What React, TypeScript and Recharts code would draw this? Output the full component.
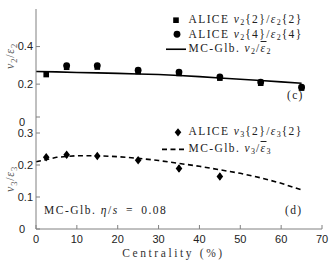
import { ComposedChart, Line, Scatter, XAxis, YAxis, ErrorBar } from "recharts";

// ALICE ratios (centrality %, value)
const centTwo = [2.5, 7.5, 15, 25, 35, 45, 55, 65];
const v2OverE2Two = [0.251, 0.29, 0.291, 0.267, 0.257, 0.232, 0.205, 0.179];
const centFour = [7.5, 15, 25, 35, 45, 55, 65];
const v2OverE2Four = [0.299, 0.299, 0.274, 0.264, 0.239, 0.211, 0.184];
const centThree = [2.5, 7.5, 15, 25, 35, 45];
const v3OverE3 = [0.224, 0.232, 0.228, 0.215, 0.189, 0.164];
const v3Err = [0.008, 0.009, 0.008, 0.008, 0.011, 0.01];

// MC-Glauber curves
const glbCent = [0, 5, 10, 15, 20, 25, 30, 35, 40, 45, 50, 55, 60, 65];
const glbV2 = [0.267, 0.265, 0.262, 0.26, 0.257, 0.254, 0.251, 0.246, 0.24, 0.233, 0.226, 0.219, 0.212, 0.205];
const glbV3 = [0.21, 0.224, 0.229, 0.229, 0.226, 0.221, 0.214, 0.205, 0.196, 0.185, 0.174, 0.16, 0.143, 0.122];

const xTicks = [0, 10, 20, 30, 40, 50, 60, 70];
const topMin = 0.025;
const topTicks = [topMin, 0.2, 0.4];
const bottomTicks = [0, 0.1, 0.2, 0.3];

const frame = "#808080";
const sans = "Liberation Sans, Arial, sans-serif";
const serif = "Liberation Serif, Times New Roman, serif";

const pts = (xs: number[], ys: number[], errs?: number[]) =>
  xs.map((x, i) => ({ x, y: ys[i], err: errs ? errs[i] : 0 }));

const Square = (p: any) => <rect x={p.cx - 2.8} y={p.cy - 2.8} width={5.6} height={5.6} fill="#000" />;
const Dot = (p: any) => <circle cx={p.cx} cy={p.cy} r={3.4} fill="#000" />;
const Diamond = (p: any) => (
  <polygon points={`${p.cx},${p.cy - 4.2} ${p.cx + 3.3},${p.cy} ${p.cx},${p.cy + 4.2} ${p.cx - 3.3},${p.cy}`} fill="#000" />
);

// "0" label sits a little left of the others, as in the original figure
const makeTick = (zeroDy: number) => (p: any) => {
  const v = p.payload.value;
  const isZero = v < 0.05;
  return (
    <text
      x={isZero ? p.x - 8 : p.x}
      y={isZero ? p.y + zeroDy : p.y}
      dy="0.355em"
      textAnchor="end"
      fontSize={11}
      fontFamily={sans}
      fill="#222"
    >
      {isZero ? "0" : v.toFixed(1)}
    </text>
  );
};

const makeYLabel = (n: string, cy: number) => () => (
  <text
    x={14}
    y={cy}
    transform={`rotate(-90, 14, ${cy})`}
    textAnchor="middle"
    fontSize={12}
    fontFamily={serif}
    letterSpacing={0.8}
    fill="#555"
  >
    <tspan fontStyle="italic">v</tspan>
    <tspan dy={3} fontSize={8.5}>{n}</tspan>
    <tspan dy={-3}>/</tspan>
    <tspan fontStyle="italic">ε</tspan>
    <tspan dy={3} fontSize={8.5}>{n}</tspan>
  </text>
);

const XLabel = () => (
  <text x={173.5} y={253} dy="0.35em" textAnchor="middle" fontSize={11.5} fontFamily={serif} letterSpacing={2.6} fill="#333">
    Centrality (%)
  </text>
);

const legendTxt: React.CSSProperties = { fontFamily: serif, fontSize: 11.5, letterSpacing: 1.4, color: "#222", whiteSpace: "nowrap" };
const noteTxt: React.CSSProperties = { fontFamily: serif, fontSize: 11.5, letterSpacing: 1.3, color: "#222", whiteSpace: "nowrap" };
const Sub = ({ c }: { c: string }) => <sub style={{ fontSize: 8, verticalAlign: -2, letterSpacing: 1 }}>{c}</sub>;

const row = (h: number): React.CSSProperties => ({ display: "flex", alignItems: "center", height: h });

const TopLegend = () => (
  <div style={{ ...legendTxt, position: "absolute", left: 164, top: 12.75 }}>
    <div style={row(14.5)}>
      <svg width={24.5} height={14.5}><rect x={9.2} y={4.4} width={5.6} height={5.6} fill="#000" /></svg>
      <span>ALICE <i>v</i><Sub c="2" />{"{2}/"}<i>ε</i><Sub c="2" />{"{2}"}</span>
    </div>
    <div style={row(14.5)}>
      <svg width={24.5} height={14.5}><circle cx={13} cy={7.25} r={3.4} fill="#000" /></svg>
      <span>ALICE <i>v</i><Sub c="2" />{"{4}/"}<i>ε</i><Sub c="2" />{"{4}"}</span>
    </div>
    <div style={row(14.5)}>
      <svg width={24.5} height={14.5}><line x1={2} x2={22} y1={7.25} y2={7.25} stroke="#000" strokeWidth={1.6} /></svg>
      <span>MC-Glb. <i>v</i><Sub c="2" />/<i style={{ textDecoration: "overline" }}>ε</i><Sub c="2" /></span>
    </div>
  </div>
);

const BottomLegend = () => (
  <div style={{ ...legendTxt, position: "absolute", left: 160, top: 124 }}>
    <div style={row(16.7)}>
      <svg width={28.5} height={16.7}><polygon points="18,4.15 21.3,8.35 18,12.55 14.7,8.35" fill="#000" /></svg>
      <span>ALICE <i>v</i><Sub c="3" />{"{2}/"}<i>ε</i><Sub c="3" />{"{2}"}</span>
    </div>
    <div style={row(16.7)}>
      <svg width={28.5} height={16.7}><line x1={2} x2={26} y1={8.35} y2={8.35} stroke="#000" strokeWidth={1.6} strokeDasharray="5 3.5" /></svg>
      <span>MC-Glb. <i>v</i><Sub c="3" />/<i style={{ textDecoration: "overline" }}>ε</i><Sub c="3" /></span>
    </div>
  </div>
);

export default function App() {
  return (
    <div style={{ position: "absolute", left: 0, top: 0, width: 332, height: 260, background: "#fff" }}>
      <div style={{ position: "absolute", left: 0, top: 0 }}>
        <ComposedChart width={332} height={130} margin={{ top: 9, right: 10, bottom: 13, left: 6 }}>
          <XAxis xAxisId="b" dataKey="x" type="number" domain={[0, 70]} ticks={xTicks} height={0} tick={false} tickSize={-4} stroke={frame} />
          <XAxis xAxisId="t" dataKey="x" type="number" orientation="top" domain={[0, 70]} ticks={xTicks} height={0} tick={false} tickSize={-4} stroke={frame} />
          <YAxis yAxisId="l" type="number" domain={[topMin, 0.6]} ticks={topTicks} interval={0} width={30} tickSize={-4} tickMargin={7} tick={makeTick(5)} stroke={frame} label={makeYLabel("2", 56)} />
          <YAxis yAxisId="r" type="number" orientation="right" domain={[topMin, 0.6]} ticks={topTicks} width={0} tick={false} tickSize={-4} stroke={frame} />
          <Line xAxisId="b" yAxisId="l" data={pts(glbCent, glbV2)} dataKey="y" stroke="#000" strokeWidth={1.6} dot={false} isAnimationActive={false} />
          <Scatter xAxisId="b" yAxisId="l" data={pts(centTwo, v2OverE2Two)} dataKey="y" shape={Square} isAnimationActive={false} />
          <Scatter xAxisId="b" yAxisId="l" data={pts(centFour, v2OverE2Four)} dataKey="y" shape={Dot} isAnimationActive={false} />
        </ComposedChart>
      </div>
      <div style={{ position: "absolute", left: 0, top: 0 }}>
        <ComposedChart width={332} height={260} margin={{ top: 117, right: 10, bottom: 0, left: 6 }}>
          <XAxis
            xAxisId="b"
            dataKey="x"
            type="number"
            domain={[0, 70]}
            ticks={xTicks}
            interval={0}
            height={31}
            tickSize={-4}
            tickMargin={10}
            stroke={frame}
            tick={{ fontSize: 11, fontFamily: sans, fill: "#222" }}
            label={XLabel}
          />
          <XAxis xAxisId="t" dataKey="x" type="number" orientation="top" domain={[0, 70]} ticks={xTicks} height={0} tick={false} tickSize={-4} stroke={frame} />
          <YAxis yAxisId="l" type="number" domain={[0, 0.35]} ticks={bottomTicks} interval={0} width={30} tickSize={-4} tickMargin={7} tick={makeTick(0)} stroke={frame} label={makeYLabel("3", 179)} />
          <YAxis yAxisId="r" type="number" orientation="right" domain={[0, 0.35]} ticks={bottomTicks} width={0} tick={false} tickSize={-4} stroke={frame} />
          <Line xAxisId="b" yAxisId="l" data={pts(glbCent, glbV3)} dataKey="y" stroke="#000" strokeWidth={1.6} strokeDasharray="5 3.5" dot={false} isAnimationActive={false} />
          <Scatter xAxisId="b" yAxisId="l" data={pts(centThree, v3OverE3, v3Err)} dataKey="y" shape={Diamond} isAnimationActive={false}>
            <ErrorBar dataKey="err" direction="y" width={0} stroke="#000" strokeWidth={1.4} />
          </Scatter>
        </ComposedChart>
      </div>
      <TopLegend />
      <BottomLegend />
      <div style={{ ...noteTxt, position: "absolute", left: 287, top: 89 }}>(c)</div>
      <div style={{ ...noteTxt, position: "absolute", left: 285, top: 204 }}>(d)</div>
      <div style={{ ...noteTxt, letterSpacing: 1.5, position: "absolute", left: 44, top: 204 }}>
        MC-Glb. <i>η</i>/<i>s</i>{"\u2002=\u2002"}0.08
      </div>
    </div>
  );
}
